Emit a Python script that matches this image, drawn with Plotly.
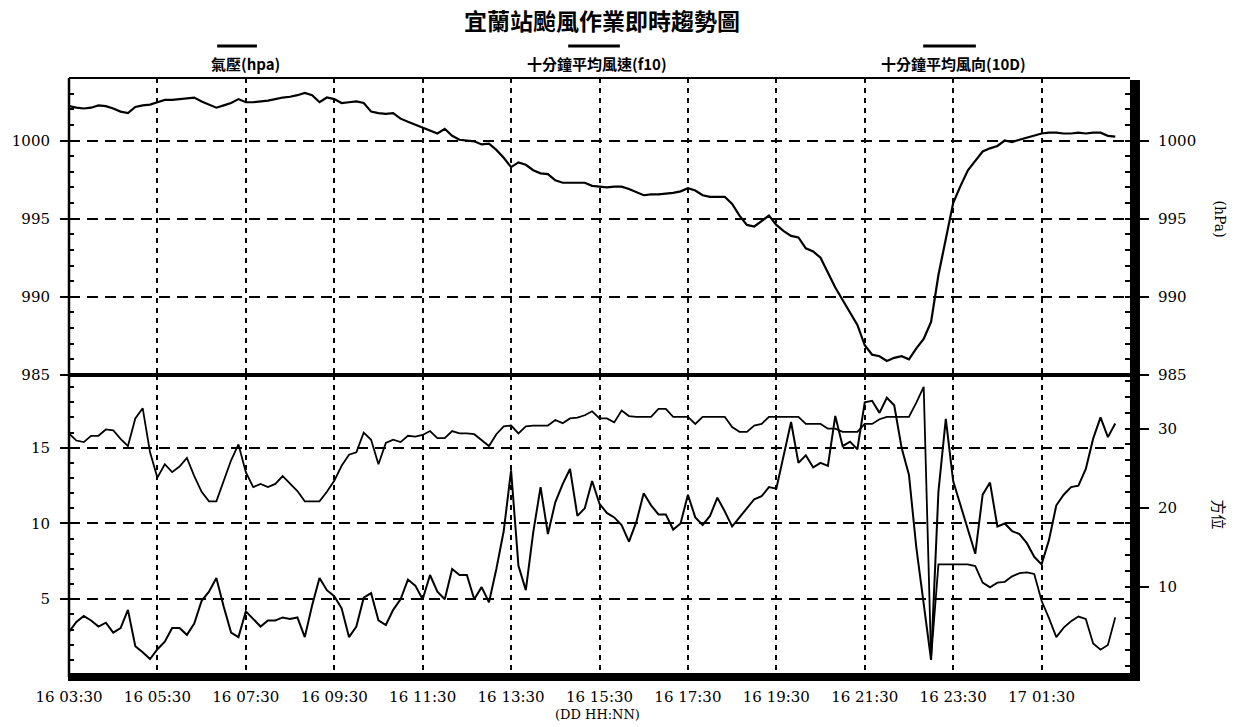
import pandas as pd
import plotly.graph_objects as go

# ---------------- data (10-minute samples from 16 03:30) ----------------
start = pd.Timestamp("2005-07-16 03:30")

pressure = [
    1002.2, 1002.1, 1002.05, 1002.1, 1002.25, 1002.2, 1002.05, 1001.85, 1001.75, 1002.15,
    1002.25, 1002.3, 1002.45, 1002.6, 1002.6, 1002.65, 1002.7, 1002.75, 1002.5, 1002.3,
    1002.1, 1002.25, 1002.4, 1002.65, 1002.45, 1002.45, 1002.5, 1002.55, 1002.65, 1002.75,
    1002.8, 1002.9, 1003.05, 1002.9, 1002.45, 1002.75, 1002.65, 1002.4, 1002.45, 1002.5,
    1002.4, 1001.85, 1001.75, 1001.7, 1001.75, 1001.4, 1001.2, 1001.0, 1000.8, 1000.6,
    1000.45, 1000.75, 1000.3, 1000.05, 1000.0, 999.95, 999.75, 999.8, 999.4, 998.9,
    998.3, 998.6, 998.45, 998.1, 997.9, 997.85, 997.45, 997.3, 997.3, 997.3,
    997.3, 997.1, 997.05, 997.0, 997.05, 997.05, 996.9, 996.7, 996.5, 996.55,
    996.55, 996.6, 996.65, 996.75, 996.95, 996.8, 996.5, 996.4, 996.4, 996.4,
    995.95, 995.2, 994.6, 994.5, 994.85, 995.2, 994.6, 994.2, 993.9, 993.8,
    993.1, 992.9, 992.5, 991.5, 990.6, 989.8, 989.0, 988.2, 986.9, 986.3,
    986.2, 985.9, 986.1, 986.2, 986.0, 986.7, 987.3, 988.4, 991.4, 993.8,
    996.0, 997.1, 998.1, 998.7, 999.3, 999.5, 999.65, 1000.0, 999.9, 1000.05,
    1000.2, 1000.3, 1000.45, 1000.5, 1000.5, 1000.45, 1000.45, 1000.5, 1000.45, 1000.5,
    1000.5, 1000.3, 1000.25,
]

speed = [
    2.85, 3.5, 3.9, 3.6, 3.2, 3.45, 2.8, 3.1, 4.3, 1.9,
    1.5, 1.05, 1.7, 2.2, 3.1, 3.1, 2.65, 3.4, 4.9, 5.5,
    6.4, 4.5, 2.8, 2.5, 4.2, 3.7, 3.2, 3.6, 3.6, 3.8,
    3.7, 3.8, 2.5, 4.6, 6.4, 5.6, 5.2, 4.4, 2.5, 3.2,
    5.1, 5.4, 3.6, 3.3, 4.3, 5.0, 6.3, 5.9, 5.0, 6.6,
    5.5, 5.0, 7.0, 6.6, 6.6, 5.0, 5.8, 4.8, 7.0, 9.5,
    13.5, 7.2, 5.6, 9.4, 12.4, 9.3, 11.4, 12.6, 13.6, 10.5,
    11.0, 12.8, 11.3, 10.7, 10.4, 9.9, 8.8, 10.1, 12.0, 11.2,
    10.6, 10.6, 9.6, 10.0, 11.9, 10.4, 9.9, 10.5, 11.7, 10.8,
    9.8, 10.4, 11.0, 11.6, 11.8, 12.4, 12.3, 14.6, 16.7, 14.0,
    14.5, 13.7, 14.0, 13.8, 17.1, 15.1, 15.4, 14.9, 18.0, 18.1,
    17.3, 18.3, 17.8, 15.0, 13.2, 8.4, 4.6, 1.0, 12.1, 16.9,
    12.8, 11.2, 9.7, 8.0, 11.9, 12.7, 9.8, 10.0, 9.5, 9.3,
    8.7, 7.8, 7.3, 8.9, 11.2, 11.9, 12.4, 12.5, 13.6, 15.6,
    17.0, 15.7, 16.6,
]

direction = [
    29.4, 28.5, 28.3, 29.1, 29.1, 29.9, 29.8, 28.7, 27.8, 31.3,
    32.6, 27.0, 23.8, 25.5, 24.5, 25.2, 26.3, 24.0, 22.0, 20.8,
    20.8, 23.5, 26.0, 28.0, 24.5, 22.6, 23.0, 22.6, 23.0, 24.0,
    23.0, 22.1, 20.8, 20.8, 20.8, 22.0, 23.4, 25.3, 26.7, 27.0,
    29.5, 28.6, 25.5, 28.2, 28.6, 28.3, 29.1, 29.0, 29.2, 29.7,
    28.8, 28.8, 29.7, 29.4, 29.4, 29.3, 28.6, 27.8, 29.3, 30.3,
    30.4, 29.4, 30.3, 30.4, 30.4, 30.4, 31.1, 30.7, 31.3, 31.4,
    31.7, 32.2, 31.3, 31.3, 30.8, 32.3, 31.6, 31.5, 31.5, 31.5,
    32.5, 32.5, 31.5, 31.5, 31.5, 30.6, 31.5, 31.5, 31.5, 31.5,
    30.2, 29.6, 29.6, 30.4, 30.6, 31.5, 31.5, 31.5, 31.5, 31.5,
    30.6, 30.6, 30.6, 30.0, 30.0, 29.6, 29.6, 29.6, 30.6, 30.6,
    31.2, 31.5, 31.5, 31.5, 31.5, 33.3, 35.3, 1.0, 12.8, 12.8,
    12.8, 12.8, 12.8, 12.6, 10.5, 9.9, 10.5, 10.6, 11.3, 11.7,
    11.8, 11.6, 8.2, 6.0, 3.6, 4.8, 5.6, 6.2, 5.9, 2.8,
    2.0, 2.6, 6.1,
]

tick_labels = ["16 03:30", "16 05:30", "16 07:30", "16 09:30", "16 11:30", "16 13:30",
               "16 15:30", "16 17:30", "16 19:30", "16 21:30", "16 23:30", "17 01:30"]
pressure_ticks = [985, 990, 995, 1000]
speed_ticks = [5, 10, 15]
direction_ticks = [10, 20, 30]

title_text = "宜蘭站颱風作業即時趨勢圖"
legend_texts = ["氣壓(hpa)", "十分鐘平均風速(f10)", "十分鐘平均風向(10D)"]

times = pd.date_range(start, periods=len(pressure), freq="10min")
tick_times = pd.date_range(start, periods=len(tick_labels), freq="2h")
x_end = start + pd.Timedelta(hours=24)

# ---------------- geometry (page pixels) ----------------
W, H = 1244, 727
L, R, T, B = 63, 1130, 78, 675
SPLIT = 375
pw, ph = R - L, B - T


def px_x(px):
    return (px - L) / pw


def px_y(py):
    return (B - py) / ph


d = px_y(SPLIT)

num_font = dict(family="DejaVu Serif", size=15, color="black")
cjk = "Noto Sans CJK TC"
grid_h = dict(showgrid=True, gridcolor="black", gridwidth=1.6, griddash="11px,7px")
grid_v = dict(showgrid=True, gridcolor="black", gridwidth=1.6, griddash="5px,5px")

fig = go.Figure()
fig.add_trace(go.Scatter(x=times, y=pressure, xaxis="x2", yaxis="y3", mode="lines",
                         line=dict(color="black", width=2.2), hoverinfo="skip"))
fig.add_trace(go.Scatter(x=times, y=pressure, xaxis="x2", yaxis="y4", mode="lines",
                         line=dict(color="rgba(0,0,0,0)", width=0), hoverinfo="skip"))
fig.add_trace(go.Scatter(x=times, y=speed, xaxis="x", yaxis="y", mode="lines",
                         line=dict(color="black", width=2), hoverinfo="skip"))
fig.add_trace(go.Scatter(x=times, y=direction, xaxis="x", yaxis="y2", mode="lines",
                         line=dict(color="black", width=1.8), hoverinfo="skip"))


def minor_in(dt, t0):
    return dict(tickmode="linear", tick0=t0, dtick=dt, ticks="inside",
                ticklen=5, tickwidth=1.5, tickcolor="black", showgrid=False)


xticks = dict(tickmode="array", tickvals=tick_times, ticktext=tick_labels)

fig.update_layout(
    width=W, height=H,
    margin=dict(l=L, r=W - R, t=T, b=H - B),
    paper_bgcolor="white", plot_bgcolor="white",
    showlegend=False,
    xaxis=dict(domain=[0, 1], anchor="y", range=[start, x_end], **xticks,
               ticks="outside", ticklen=5, tickwidth=1.5, tickcolor="black",
               tickfont=num_font, ticklabelstandoff=3,
               zeroline=False, showline=False, **grid_v),
    xaxis2=dict(domain=[0, 1], anchor="y3", range=[start, x_end], **xticks,
                showticklabels=False, ticks="",
                zeroline=False, showline=False, **grid_v),
    yaxis=dict(domain=[0, d], anchor="x", range=[0, 19.8],
               tickmode="array", tickvals=speed_ticks,
               ticks="outside", ticklen=8, tickwidth=1.5, tickcolor="black",
               tickfont=num_font, ticklabelstandoff=7,
               minor=minor_in(1, 0), zeroline=False, showline=False, **grid_h),
    yaxis2=dict(overlaying="y", side="right", anchor="x", range=[-1.2, 36.8],
                tickmode="array", tickvals=direction_ticks,
                ticks="outside", ticklen=18, tickwidth=1.5, tickcolor="black",
                tickfont=num_font, ticklabelstandoff=6,
                minor=minor_in(2, 0), showgrid=False, zeroline=False, showline=False),
    yaxis3=dict(domain=[d, 1], anchor="x2", range=[985, 1004],
                tickmode="array", tickvals=pressure_ticks,
                ticks="outside", ticklen=8, tickwidth=1.5, tickcolor="black",
                tickfont=num_font, ticklabelstandoff=7,
                minor=minor_in(1, 985), zeroline=False, showline=False, **grid_h),
    yaxis4=dict(overlaying="y3", side="right", anchor="x2", range=[985, 1004],
                tickmode="array", tickvals=pressure_ticks,
                ticks="outside", ticklen=18, tickwidth=1.5, tickcolor="black",
                tickfont=num_font, ticklabelstandoff=6,
                minor=minor_in(1, 985), showgrid=False, zeroline=False, showline=False),
)

# frame lines
frame = [
    (L, T, L, B + 2, 2.5),                # left
    (L, T, R, T, 2),                      # top
    (L, SPLIT, R, SPLIT, 4),              # divider
    (L, B + 2, R + 10, B + 2, 8),         # bottom thick
    (R + 5, T + 2, R + 5, B + 6, 10),     # right thick bar
]
for x0, y0, x1, y1, w in frame:
    fig.add_shape(type="line", xref="paper", yref="paper",
                  x0=px_x(x0), y0=px_y(y0), x1=px_x(x1), y1=px_y(y1),
                  line=dict(color="black", width=w), layer="above")


def note(text, cx, cy, font, angle=0):
    fig.add_annotation(xref="paper", yref="paper", x=px_x(cx), y=px_y(cy),
                       xanchor="center", yanchor="middle", text=text,
                       textangle=angle, showarrow=False, font=font)


# title
note("<b>" + title_text + "</b>", 599, 20, dict(family=cjk, size=23, color="black"))

# legend entries (label + line sample above)
legend_pos = [(241, 212, 252), (594, 565, 617), (952, 922, 975)]
for txt, (cx, lx0, lx1) in zip(legend_texts, legend_pos):
    note("<b>" + txt + "</b>", cx, 63, dict(family=cjk, size=15, color="black"))
    fig.add_shape(type="line", xref="paper", yref="paper",
                  x0=px_x(lx0), x1=px_x(lx1), y0=px_y(46), y1=px_y(46),
                  line=dict(color="black", width=3))

# axis titles
note("(hPa)", 1221, 219, dict(family="DejaVu Serif", size=14, color="black"), 90)
note("方位", 1221, 515, dict(family=cjk, size=15, color="black"), 90)
note("(DD HH:NN)", 594, 714, dict(family="DejaVu Serif", size=13, color="black"))

fig.write_html("out.html", config={"displayModeBar": False},
               post_script="document.body.style.margin='0px';")
